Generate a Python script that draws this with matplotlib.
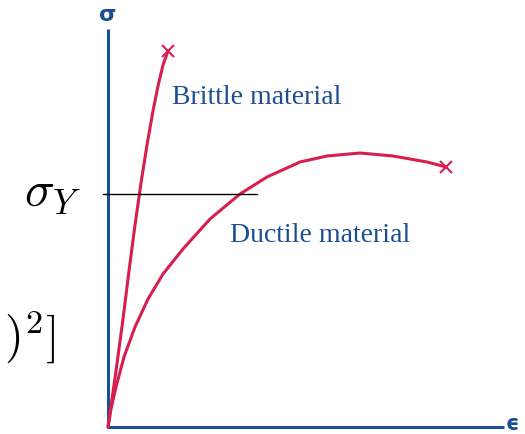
import numpy as np
import matplotlib
matplotlib.use("Agg")
import matplotlib.pyplot as plt

plt.rcParams['mathtext.fontset'] = 'cm'

# --- DADOS (unidades arbitrárias, origem no canto do gráfico) ---
frag_eps = [0, 8, 15, 21, 27, 33, 39, 45, 50, 55, 60]             # deformação - material frágil
frag_sig = [0, 56, 108, 156, 202, 244, 282, 316, 341, 362, 376]   # tensão - material frágil

duct_eps = [0, 3, 8, 16, 27, 40, 55, 75, 102, 132, 159, 192, 219, 252, 285, 319, 338]        # deformação - material dúctil
duct_sig = [0, 18, 40, 70, 100, 128, 153, 178, 208, 233, 250, 265, 271, 274, 271, 265, 260]  # tensão - material dúctil

sigma_y = 233          # tensão de escoamento
linha_y = [-5, 149]    # extensão da linha de escoamento

cor_curva = '#d61f4f'
cor_eixo = '#1b4f8f'

fig = plt.figure(figsize=(5.25, 4.35), dpi=100)
ax = fig.add_axes([0, 0, 1, 1])
ax.set_xlim(-108, 417)
ax.set_ylim(-7, 428)
ax.axis('off')

# --- EIXOS ---
ax.plot([0, 0], [0, 398], color=cor_eixo, lw=2.2, solid_capstyle='butt')
ax.plot([-1, 396], [0, 0], color=cor_eixo, lw=2.2, solid_capstyle='butt')
ax.text(0, 413, 'σ', color=cor_eixo, fontsize=16, fontweight='bold',
        ha='center', va='center', family='DejaVu Sans')
ax.text(404, -6.5, 'ϵ', color=cor_eixo, fontsize=15, fontweight='bold',
        ha='center', va='bottom', family='DejaVu Sans')

# --- CURVAS ---
ax.plot(frag_eps, frag_sig, color=cor_curva, lw=2.2, solid_capstyle='round', solid_joinstyle='round')
ax.plot(duct_eps, duct_sig, color=cor_curva, lw=2.2, solid_capstyle='round', solid_joinstyle='round')
ax.plot(frag_eps[-1], frag_sig[-1], 'x', color=cor_curva, ms=9, mew=1.5)
ax.plot(duct_eps[-1], duct_sig[-1], 'x', color=cor_curva, ms=9, mew=1.5)

# --- LINHA DE ESCOAMENTO ---
ax.plot(linha_y, [sigma_y, sigma_y], color='k', lw=1)
ax.text(-84, 236, r'$\sigma_Y$', fontsize=36, ha='left', va='center')
ax.text(-104, 91, r'$)^2]$', fontsize=35, ha='left', va='center')

# --- RÓTULOS ---
ax.text(64, 330, 'Brittle material', color=cor_eixo, fontsize=20,
        family='Liberation Serif', ha='left', va='center')
ax.text(122, 192, 'Ductile material', color=cor_eixo, fontsize=20,
        family='Liberation Serif', ha='left', va='center')

fig.savefig('out.png', dpi=100)
